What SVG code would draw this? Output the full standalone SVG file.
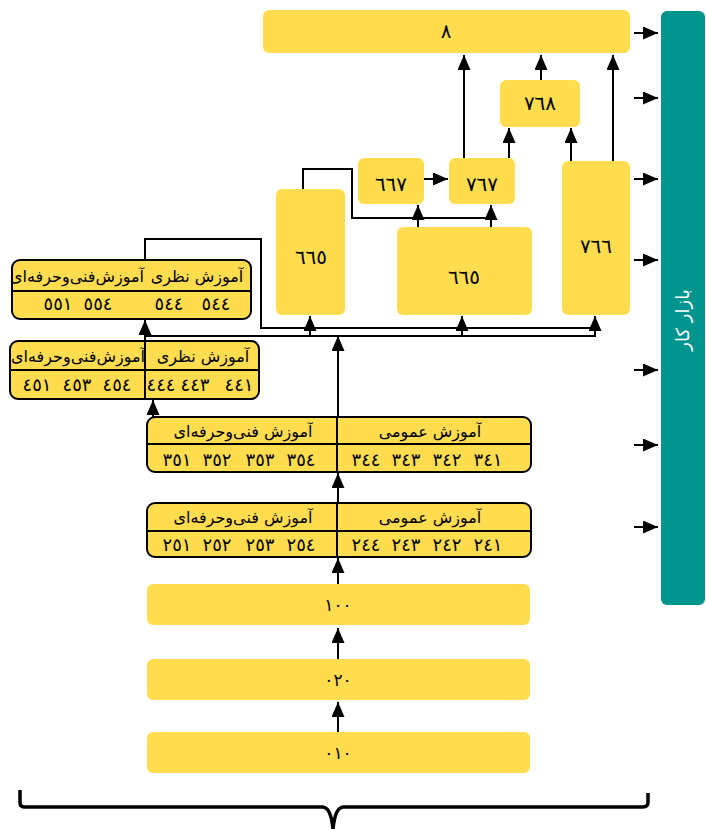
<svg xmlns="http://www.w3.org/2000/svg" width="706" height="829" viewBox="0 0 706 829">
<defs>
<marker id="ah" viewBox="0 0 15 13" refX="15" refY="6.5" markerWidth="15" markerHeight="13" orient="auto" markerUnits="userSpaceOnUse"><path d="M0,0 L15,6.5 L0,13 z" fill="#000"/></marker>
<style>
.b{fill:#FFDD4F;}
.t{fill:#FFDD4F;stroke:#000;stroke-width:2;}
.ln{fill:none;stroke:#000;stroke-width:2;}
.ar{fill:none;stroke:#000;stroke-width:2;marker-end:url(#ah);}
text{font-family:"DejaVu Sans","Noto Sans",sans-serif;fill:#000;text-anchor:middle;}
.n{font-size:20px;}
.h{font-size:16px;}
.d{font-size:18px;}
.s{font-size:17px;}
</style>
</defs>
<g id="market">
<rect x="661" y="11" width="44" height="594" rx="6" fill="#00948F"/>
<text x="0" y="0" transform="translate(689,320) rotate(-90)" style="fill:#fff;font-size:18px;">بازار کار</text>
</g>
<g id="n8"><rect class="b" x="263" y="10" width="367" height="43" rx="6"/><text class="n" x="446" y="38">٨</text></g>
<g id="n768"><rect class="b" x="500" y="80" width="80" height="47" rx="6"/><text class="n" x="540" y="110">٧٦٨</text></g>
<g id="n667"><rect class="b" x="358" y="158" width="66" height="46" rx="6"/><text class="n" x="391" y="191">٦٦٧</text></g>
<g id="n767"><rect class="b" x="449" y="158" width="66" height="46" rx="6"/><text class="n" x="482" y="191">٧٦٧</text></g>
<g id="n766"><rect class="b" x="562" y="161" width="68" height="154" rx="6"/><text class="n" x="596" y="253">٧٦٦</text></g>
<g id="n665a"><rect class="b" x="276" y="189" width="69" height="126" rx="6"/><text class="n" x="311" y="264">٦٦٥</text></g>
<g id="n665b"><rect class="b" x="397" y="227" width="135" height="88" rx="6"/><text class="n" x="464" y="284">٦٦٥</text></g>
<g id="t5">
<rect class="t" x="12" y="260" width="239" height="59" rx="8"/>
<line class="ln" x1="12" y1="291" x2="251" y2="291"/>
<text class="h" x="197" y="282">آموزش نظری</text>
<text class="h" x="77" y="282">آموزش&#8204;فنی&#8204;وحرفه&#8204;ای</text>
<text class="d" x="58" y="310">٥٥١</text><text class="d" x="98" y="310">٥٥٤</text>
<text class="d" x="169" y="310">٥٤٤</text><text class="d" x="216" y="310">٥٤٤</text>
</g>
<g id="t4">
<rect class="t" x="10" y="341" width="249" height="58" rx="8"/>
<line class="ln" x1="10" y1="370" x2="259" y2="370"/>
<line class="ln" x1="145" y1="341" x2="145" y2="399"/>
<text class="h" x="203" y="362">آموزش نظری</text>
<text class="h" x="78" y="362">آموزش&#8204;فنی&#8204;وحرفه&#8204;ای</text>
<text class="d" x="37" y="391">٤٥١</text><text class="d" x="77" y="391">٤٥٣</text><text class="d" x="117" y="391">٤٥٤</text>
<text class="d" x="161" y="391">٤٤٤</text><text class="d" x="195" y="391">٤٤٣</text><text class="d" x="239" y="391">٤٤١</text>
</g>
<g id="t3">
<rect class="t" x="147" y="417" width="384" height="55" rx="8"/>
<line class="ln" x1="147" y1="444" x2="531" y2="444"/>
<line class="ln" x1="337" y1="417" x2="337" y2="472"/>
<text class="h" x="243" y="437">آموزش فنی&#8204;وحرفه&#8204;ای</text>
<text class="h" x="430" y="437">آموزش عمومی</text>
<text class="d" x="177" y="466">٣٥١</text><text class="d" x="217" y="466">٣٥٢</text><text class="d" x="260" y="466">٣٥٣</text><text class="d" x="301" y="466">٣٥٤</text>
<text class="d" x="366" y="466">٣٤٤</text><text class="d" x="406" y="466">٣٤٣</text><text class="d" x="447" y="466">٣٤٢</text><text class="d" x="488" y="466">٣٤١</text>
</g>
<g id="t2">
<rect class="t" x="147" y="503" width="384" height="54" rx="8"/>
<line class="ln" x1="147" y1="531" x2="531" y2="531"/>
<line class="ln" x1="337" y1="503" x2="337" y2="557"/>
<text class="h" x="243" y="523">آموزش فنی&#8204;وحرفه&#8204;ای</text>
<text class="h" x="430" y="523">آموزش عمومی</text>
<text class="d" x="177" y="551">٢٥١</text><text class="d" x="217" y="551">٢٥٢</text><text class="d" x="260" y="551">٢٥٣</text><text class="d" x="301" y="551">٢٥٤</text>
<text class="d" x="366" y="551">٢٤٤</text><text class="d" x="406" y="551">٢٤٣</text><text class="d" x="447" y="551">٢٤٢</text><text class="d" x="488" y="551">٢٤١</text>
</g>
<g id="n100"><rect class="b" x="147" y="584" width="383" height="41" rx="6"/><text class="s" x="338" y="611">١٠٠</text></g>
<g id="n020"><rect class="b" x="147" y="659" width="383" height="41" rx="6"/><text class="s" x="338" y="686">٠٢٠</text></g>
<g id="n010"><rect class="b" x="147" y="732" width="383" height="41" rx="6"/><text class="s" x="338" y="759">٠١٠</text></g>
<g id="connectors">
<line class="ar" x1="338" y1="732" x2="338" y2="702"/>
<line class="ar" x1="338" y1="659" x2="338" y2="628"/>
<line class="ar" x1="338" y1="584" x2="338" y2="558"/>
<line class="ar" x1="338" y1="503" x2="338" y2="473"/>
<line class="ar" x1="153" y1="417" x2="153" y2="400"/>
<line class="ar" x1="338" y1="418" x2="338" y2="336"/>
<line class="ar" x1="145" y1="341" x2="145" y2="320"/>
<path class="ln" d="M145,260 V239 H261 V328 H595"/>
<path class="ar" d="M145,336 H595 V316"/>
<line class="ar" x1="310" y1="336" x2="310" y2="316"/>
<line class="ar" x1="462" y1="336" x2="462" y2="316"/>
<path class="ln" d="M303,189 V169 H352 V218 H491"/>
<line class="ar" x1="418" y1="227" x2="418" y2="205"/>
<line class="ar" x1="491" y1="227" x2="491" y2="205"/>
<line class="ar" x1="424" y1="179" x2="448" y2="179"/>
<line class="ar" x1="464" y1="158" x2="464" y2="55"/>
<line class="ar" x1="509" y1="158" x2="509" y2="128"/>
<line class="ar" x1="571" y1="161" x2="571" y2="128"/>
<line class="ar" x1="541" y1="80" x2="541" y2="55"/>
<line class="ar" x1="613" y1="161" x2="613" y2="55"/>
<line class="ar" x1="634" y1="33" x2="658" y2="33"/>
<line class="ar" x1="634" y1="98" x2="658" y2="98"/>
<line class="ar" x1="634" y1="179" x2="658" y2="179"/>
<line class="ar" x1="634" y1="260" x2="658" y2="260"/>
<line class="ar" x1="634" y1="370" x2="658" y2="370"/>
<line class="ar" x1="634" y1="445" x2="658" y2="445"/>
<line class="ar" x1="634" y1="527" x2="658" y2="527"/>
</g>
<g id="brace">
<path d="M20,790 V803 Q20,807 25,807 H323 Q331,808 333,829 Q335,808 343,807 H643 Q648,807 648,802 V793" fill="none" stroke="#000" stroke-width="3.5" stroke-linejoin="round"/>
</g>
</svg>
